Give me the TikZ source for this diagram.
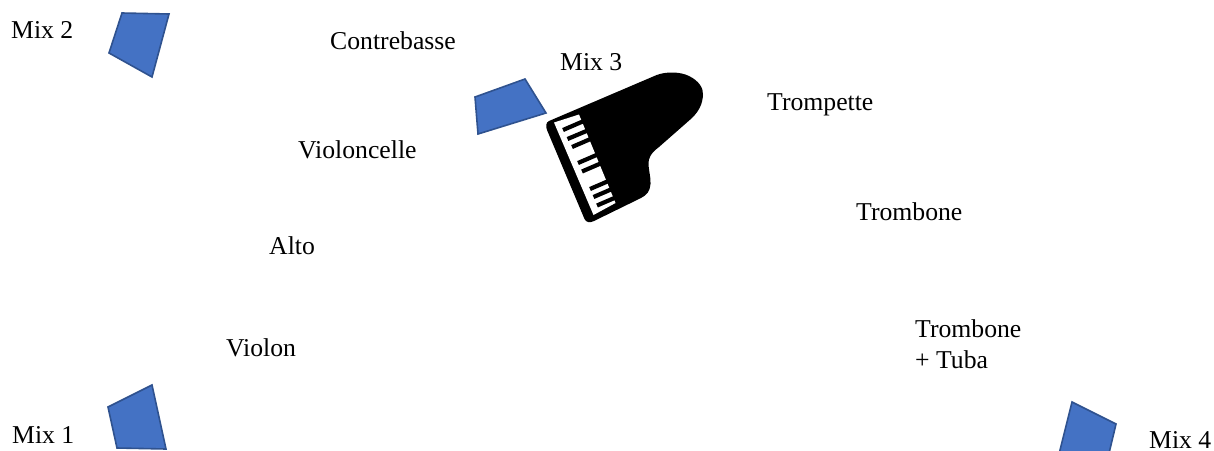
\documentclass[tikz,border=0pt]{standalone}
\usepackage{fontspec}
\setmainfont{Liberation Serif}
\definecolor{mixfill}{HTML}{4472C4}
\definecolor{mixline}{HTML}{2F528F}
\tikzset{
  lab/.style={anchor=base west,inner sep=0pt,font=\fontsize{25.7}{31}\selectfont,text=black},
  mic/.style={fill=mixfill,draw=mixline,line width=1.6pt,line join=miter},
  blackkey/.style={draw=black,line width=4.2pt,line cap=butt}
}
\begin{document}
\begin{tikzpicture}[x=1pt,y=-1pt]
\useasboundingbox (0,0) rectangle (1214,450);
\clip (0,0) rectangle (1214,450);
% microphones
\draw[mic] (122,13) -- (169,14) -- (152,77) -- (109,53) -- cycle;
\draw[mic] (475,97) -- (525,79) -- (546,113) -- (478,134) -- cycle;
\draw[mic] (108,407) -- (152,385) -- (166,449) -- (117,448) -- cycle;
\draw[mic] (1072,402) -- (1116,424) -- (1105,470) -- (1055,470) -- cycle;
% piano
\fill[black] (549,121) -- (656.7,75)
  .. controls (666,71.5) and (680,71.5) .. (689,76)
  .. controls (699,81) and (703.5,88) .. (703,95)
  .. controls (702.5,104) and (699,111) .. (692,118)
  -- (659,147)
  .. controls (651,153) and (648,158) .. (648.5,165)
  .. controls (649,172) and (651,178) .. (650.5,184)
  .. controls (650,191) and (647,195) .. (641,198)
  -- (594,221)
  .. controls (590,223) and (586,222.5) .. (584.5,219)
  -- (547,130)
  .. controls (545.5,126) and (546,122.5) .. (549,121) -- cycle;
\fill[white] (554,122.5) -- (579,114.5) -- (615.5,203) -- (593.5,215) -- cycle;
\draw[blackkey] (563,130) -- (585,120.5);
\draw[blackkey] (567.5,139) -- (590,129.5);
\draw[blackkey] (572,147) -- (594,137.5);
\draw[blackkey] (578,163) -- (600,153.5);
\draw[blackkey] (582,171.5) -- (604,162);
\draw[blackkey] (590,189) -- (612,179.5);
\draw[blackkey] (593.5,197) -- (615.5,187.5);
\draw[blackkey] (597,205.5) -- (619,196);
% labels
\node[lab] (mixtwo) at (11,38) {Mix 2};
\node[lab] (contrebasse) at (330,49) {Contrebasse};
\node[lab] (mixthree) at (560,70) {Mix 3};
\node[lab] (trompette) at (767,110) {Trompette};
\node[lab] (violoncelle) at (298,158) {Violoncelle};
\node[lab] (trombone) at (856,220) {Trombone};
\node[lab] (alto) at (269,254) {Alto};
\node[lab] (violon) at (226,356) {Violon};
\node[lab] (tromboneb) at (915,337) {Trombone};
\node[lab] (tuba) at (915,368) {+ Tuba};
\node[lab] (mixone) at (12,443) {Mix 1};
\node[lab] (mixfour) at (1149,448.5) {Mix 4};
\end{tikzpicture}
\end{document}
